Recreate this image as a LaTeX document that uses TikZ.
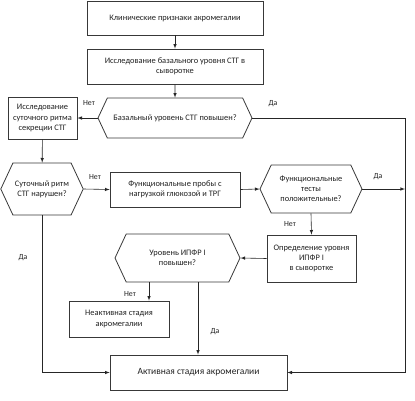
\documentclass[tikz,border=0pt]{standalone}
\usepackage{fontspec}
\setmainfont{Carlito}
\usepackage{tikz}
\usetikzlibrary{positioning}
\usetikzlibrary{shapes.symbols}
\definecolor{linegray}{HTML}{383838}
\definecolor{textgray}{HTML}{202020}

\begin{document}
\begin{tikzpicture}[
      x=1pt, y=-1pt,
      type-box/.style={rectangle, draw=linegray, line width=0.8pt, text=textgray, align=center,
                       inner sep=2pt, font=\fontsize{8.4}{10.2}\selectfont},
      type-hex/.style={signal, signal to=west and east, signal pointer angle=130, draw=linegray,
                       line width=0.8pt, text=textgray, align=center, inner sep=2pt,
                       font=\fontsize{8.4}{10.2}\selectfont},
      type-label/.style={text=textgray, inner sep=0pt, font=\fontsize{7.8}{9}\selectfont},
      every path/.style={line width=0.6pt},
      link/.style={-latex, black!85}
    ]
      \useasboundingbox (0,0) rectangle (415,400);
      % boxes and decisions
      \node[type-box, minimum width=176pt, minimum height=34pt] (clin) at (175,18) {Клинические признаки акромегалии};
      \node[type-box, minimum width=176pt, minimum height=35pt] (basal) at (175,66.5) {Исследование базального уровня СТГ в\\сыворотке};
      \node[type-hex, minimum width=154pt, minimum height=40pt] (hbasal) at (175,118) {Базальный уровень СТГ повышен?};
      \node[type-box, minimum width=69pt, minimum height=42pt] (ritm) at (42.5,118) {Исследование\\суточного ритма\\секреции СТГ};
      \node[type-hex, minimum width=82pt, minimum height=52pt] (hritm) at (42,189) {Суточный ритм\\СТГ нарушен?};
      \node[type-box, minimum width=130pt, minimum height=35pt] (func) at (175,189.5) {Функциональные пробы с\\нагрузкой глюкозой и ТРГ};
      \node[type-hex, minimum width=102pt, minimum height=48pt] (hfunc) at (311,189) {Функциональные\\тесты\\положительные?};
      \node[type-box, minimum width=89pt, minimum height=47pt] (ipfr) at (311.5,258.5) {Определение уровня\\ИПФР I\\в сыворотке};
      \node[type-hex, minimum width=125pt, minimum height=48pt] (hipfr) at (177.5,258) {Уровень ИПФР I\\повышен?};
      \node[type-box, minimum width=100pt, minimum height=36pt] (inact) at (119,319) {Неактивная стадия\\акромегалии};
      \node[type-box, minimum width=177pt, minimum height=35pt, font=\fontsize{9.5}{11}\selectfont] (act) at (198.5,372.5) {Активная стадия акромегалии};
      \coordinate (rbot) at (405,372.5);

      % connectors
      \draw[link] (clin) -- (basal);
      \draw[link] (basal) -- (hbasal);
      \draw[link] (hbasal.west) -- (ritm.east);
      \draw[link] (hbasal.east) -| (rbot) -- (act.east);
      \draw[link] (ritm) -- (hritm);
      \draw[link] (hritm.east) -- (func.west);
      \draw[link] (func.east) -- (hfunc.west);
      \draw[link] (hfunc.east) -- (hfunc.east -| rbot);
      \draw[link] (hfunc.south) -- (ipfr.north);
      \draw[link] (ipfr.west) -- (hipfr.east);
      \draw[link] ([xshift=-28.5pt]hipfr.south) -- ([xshift=-28.5pt]hipfr.south |- inact.north);
      \draw[link] ([xshift=20.5pt]hipfr.south) -- ([xshift=20.5pt]hipfr.south |- act.north);
      \draw[link] (hritm.south) |- (act.west);

      % labels
      \node[type-label] (no-basal) at (89,103) {Нет};
      \node[type-label] (yes-basal) at (273,104) {Да};
      \node[type-label] (no-ritm) at (95,177) {Нет};
      \node[type-label] (yes-ritm) at (23,258) {Да};
      \node[type-label] (yes-func) at (378,177) {Да};
      \node[type-label] (no-func) at (290,224) {Нет};
      \node[type-label] (no-ipfr) at (130,294) {Нет};
      \node[type-label] (yes-ipfr) at (215,332) {Да};
    \end{tikzpicture}
\end{document}
